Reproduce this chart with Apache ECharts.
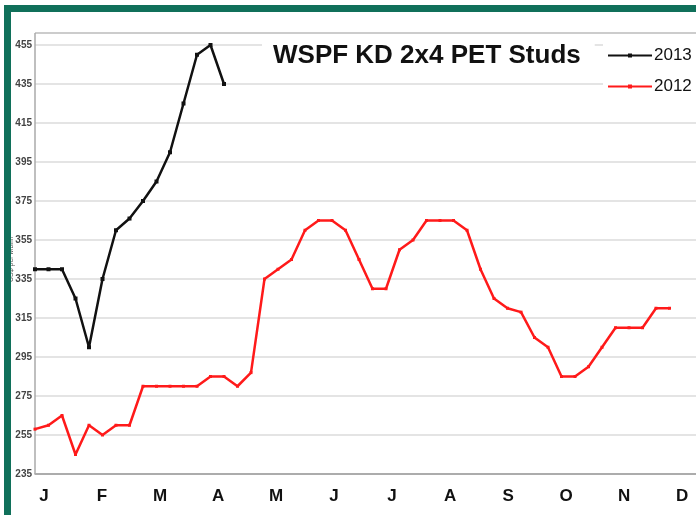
<!DOCTYPE html>
<html>
<head>
<meta charset="utf-8">
<script src="https://cdn.jsdelivr.net/npm/echarts@6/dist/echarts.min.js"></script>
<style>
  html, body { margin: 0; padding: 0; background: #fff; }
  #chart { width: 696px; height: 515px; }
</style>
</head>
<body>
<div id="chart"></div>
<script>
// weekly prices, US$ per Mbfm
var months = ["J", "F", "M", "A", "M", "J", "J", "A", "S", "O", "N", "D"];
var weeks = [];
for (var i = 1; i <= 53; i++) weeks.push("W" + i);

var prices2013 = [340, 340, 340, 325, 300, 335, 360, 366, 375, 385, 400, 425, 450, 455, 435];
var prices2012 = [
  258, 260, 265, 245, 260, 255, 260, 260, 280, 280, 280, 280, 280, 285, 285, 280,
  287, 335, 340, 345, 360, 365, 365, 360, 345, 330, 330, 350, 355, 365, 365, 365,
  360, 340, 325, 320, 318, 305, 300, 285, 285, 290, 300, 310, 310, 310, 320, 320
];
var yTicks = { min: 235, max: 455, step: 20 };

var myChart = echarts.init(document.getElementById("chart"));
myChart.setOption({
  animation: false,
  backgroundColor: "#fff",
  title: {
    text: "WSPF KD 2x4 PET Studs",
    left: 262,
    top: 36,
    padding: [7, 14, 8, 11],
    backgroundColor: "#fff",
    textStyle: {
      fontFamily: "Liberation Sans, Arial, sans-serif",
      fontSize: 26,
      fontWeight: "bold",
      color: "#111",
      lineHeight: 25
    },
    z: 5
  },
  legend: {
    orient: "vertical",
    left: 603,
    top: 39,
    padding: [8, 10, 8, 4],
    backgroundColor: "#fff",
    itemWidth: 44,
    itemHeight: 5,
    itemGap: 14,
    data: ["2013", "2012"],
    textStyle: {
      fontFamily: "Liberation Sans, Arial, sans-serif",
      fontSize: 17,
      color: "#111",
      lineHeight: 16,
      padding: [0, 0, 0, -3]
    },
    z: 5
  },
  grid: { left: 35, top: 45, width: 702, height: 429, containLabel: false, outerBoundsMode: "none" },
  xAxis: [
    {
      type: "category",
      data: weeks,
      boundaryGap: false,
      axisLine: { lineStyle: { color: "#999", width: 1.5 } },
      axisTick: { show: false },
      axisLabel: { show: false },
      splitLine: { show: false }
    },
    {
      // month letters
      type: "value",
      position: "bottom",
      min: 0,
      max: 12.1,
      interval: 1,
      axisLine: { show: false },
      axisTick: { show: false },
      splitLine: { show: false },
      axisLabel: {
        margin: 14,
        padding: [0, 0, 0, 18],
        fontFamily: "Liberation Sans, Arial, sans-serif",
        fontSize: 17,
        fontWeight: "bold",
        color: "#111",
        formatter: function (v) {
          return months[Math.round(v)] || "";
        }
      }
    }
  ],
  yAxis: {
    type: "value",
    min: yTicks.min,
    max: yTicks.max,
    interval: yTicks.step,
    name: "US$ per Mbfm",
    nameLocation: "middle",
    nameRotate: 90,
    nameGap: 20,
    nameMoveOverlap: false,
    nameTextStyle: { fontSize: 7, color: "#555", fontFamily: "Liberation Sans, Arial, sans-serif" },
    axisLine: { show: false },
    axisTick: { show: false },
    axisLabel: {
      margin: 3,
      fontFamily: "Liberation Sans, Arial, sans-serif",
      fontSize: 10,
      fontWeight: "bold",
      color: "#444"
    },
    splitLine: { lineStyle: { color: "#e4e4e4", width: 2 } }
  },
  series: [
    {
      name: "2013",
      type: "line",
      data: prices2013,
      symbol: "rect",
      symbolSize: 4,
      itemStyle: { color: "#111" },
      lineStyle: { color: "#111", width: 2.5 }
    },
    {
      name: "2012",
      type: "line",
      data: prices2012,
      symbol: "rect",
      symbolSize: 3,
      itemStyle: { color: "#ff1a1a" },
      lineStyle: { color: "#ff1a1a", width: 2.5 }
    }
  ],
  graphic: [
    // plot border (top, left)
    { type: "line", shape: { x1: 35, y1: 33, x2: 696, y2: 33 }, style: { stroke: "#bbb", lineWidth: 1.5 }, z: 1 },
    { type: "line", shape: { x1: 35, y1: 33, x2: 35, y2: 474 }, style: { stroke: "#aaa", lineWidth: 1.5 }, z: 1 },
    // green frame
    { type: "rect", shape: { x: 4, y: 5, width: 692, height: 7 }, style: { fill: "#10705a" }, z: 10 },
    { type: "rect", shape: { x: 4, y: 5, width: 7, height: 510 }, style: { fill: "#10705a" }, z: 10 }
  ]
});
</script>
</body>
</html>
